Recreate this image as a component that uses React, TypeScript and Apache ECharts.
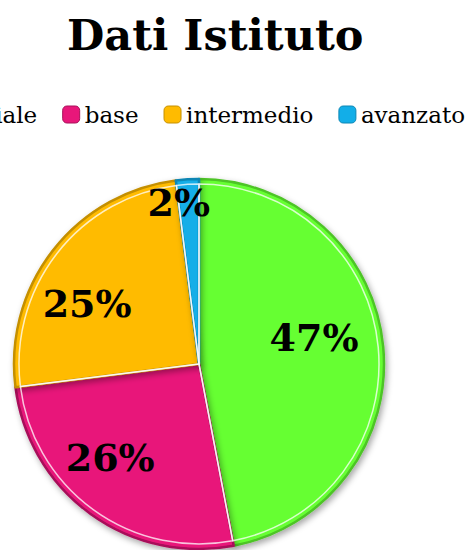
import React, { useEffect, useRef } from 'react';
import * as echarts from 'echarts';

const categories = ['iniziale', 'base', 'intermedio', 'avanzato'];
const values = [47, 26, 25, 2];
const colors = ['#66FF33', '#E8177A', '#FFBB00', '#12AEE8'];
const edgeColors = ['#4DC426', '#A8105A', '#C48F00', '#0B86B4'];
// label placement: outer radius of the transparent pie carrying each label, and its angular nudge
const labelRadii = [230, 252, 248, 320];
const labelStartAngles = [97.5, 82.5, 99.5, 93.5];
const titleText = 'Dati Istituto';

export default function App() {
  const ref = useRef<HTMLDivElement>(null);
  useEffect(() => {
    const chart = echarts.init(ref.current as HTMLDivElement, null, { renderer: 'svg' });
    const center = [199, 364];
    const base = categories.map((name, i) => ({ name, value: values[i] }));
    const labelStyle = {
      show: true,
      position: 'inside',
      formatter: '{d}%',
      fontFamily: 'DejaVu Serif',
      fontWeight: 'bold',
      fontSize: 38,
      color: '#000',
    };
    const labelSeries = categories.map((_, k) => ({
      type: 'pie',
      radius: [0, labelRadii[k]],
      startAngle: labelStartAngles[k],
      center,
      silent: true,
      legendHoverLink: false,
      itemStyle: { color: 'rgba(0,0,0,0)' },
      label: labelStyle,
      labelLine: { show: false },
      data: base.map((d, i) => ({ ...d, label: { show: i === k } })),
    }));
    chart.setOption({
      animation: false,
      title: {
        text: titleText,
        left: 62,
        top: 8,
        textStyle: { fontFamily: 'DejaVu Serif', fontWeight: 'bold', fontSize: 43, color: '#000' },
      },
      legend: {
        data: categories,
        left: -74,
        top: 98,
        width: 800,
        itemWidth: 17,
        itemHeight: 17,
        itemGap: 25,
        icon: 'roundRect',
        itemStyle: { shadowBlur: 0, borderWidth: 1 },
        textStyle: { fontFamily: 'DejaVu Serif', fontSize: 23, color: '#000' },
      },
      series: [
        {
          type: 'pie',
          radius: [0, 185],
          center,
          silent: true,
          label: { show: false },
          labelLine: { show: false },
          itemStyle: {
            shadowBlur: 6,
            shadowColor: 'rgba(0,0,0,0.35)',
            shadowOffsetX: 2,
            shadowOffsetY: 3,
          },
          data: base.map((d, i) => ({
            ...d,
            itemStyle: { color: colors[i], borderColor: edgeColors[i], borderWidth: 2.5 },
          })),
        },
        {
          type: 'pie',
          radius: [0, 180],
          center,
          silent: true,
          legendHoverLink: false,
          label: { show: false },
          labelLine: { show: false },
          itemStyle: { color: 'rgba(0,0,0,0)', borderColor: 'rgba(255,255,255,0.75)', borderWidth: 1.5 },
          data: base,
        },
        ...labelSeries,
      ],
    });
    return () => chart.dispose();
  }, []);
  return (
    <div style={{ position: 'fixed', left: 0, top: 0, width: 470, height: 550, background: '#fff' }}>
      <div ref={ref} style={{ width: 470, height: 550 }} />
    </div>
  );
}
